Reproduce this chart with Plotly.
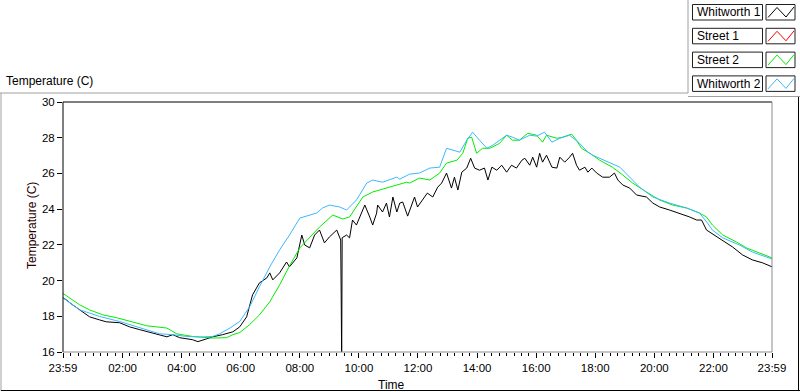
import plotly.graph_objects as go
from datetime import datetime, timedelta

# ---------------- data ----------------
w1_times = ["23:59","00:06","00:13","00:19","00:33","00:53","01:13","01:27","01:54","02:14","02:35","03:01",
            "03:30","03:42","03:56","04:22","04:33","04:51","05:03","05:23","05:44","05:58","06:12","06:24",
            "06:38","06:53","06:59","07:05","07:19","07:33","07:39","07:54","08:04","08:10","08:20","08:30",
            "08:40","08:50","09:00","09:15","09:23","09:24","09:25","09:26","09:35","09:41","09:47","09:55",
            "10:06","10:12","10:22","10:28","10:36","10:38","10:48","10:56","11:02","11:09","11:17","11:23",
            "11:29","11:37","11:39","11:53","11:59","12:09","12:19","12:30","12:40","12:48","12:58","13:08",
            "13:14","13:21","13:29","13:39","13:47","13:55","14:05","14:15","14:22","14:30","14:40","14:50",
            "15:00","15:10","15:20","15:31","15:37","15:47","15:53","16:01","16:07","16:13","16:21","16:32",
            "16:42","16:48","16:58","17:08","17:14","17:22","17:28","17:39","17:45","17:53","18:03","18:15",
            "18:29","18:39","18:46","18:56","19:10","19:24","19:44","19:57","20:11","20:31","20:51","21:12",
            "21:26","21:36","21:46","21:58","22:19","22:39","22:59","23:19","23:40","23:59"]
whitworth1 = [19.03,18.92,18.75,18.64,18.36,17.97,17.80,17.69,17.64,17.41,17.25,17.08,
              16.85,16.97,16.80,16.69,16.58,16.74,16.85,16.97,17.13,17.41,17.97,19.20,
              19.87,20.15,20.43,20.04,20.43,21.04,20.77,21.27,22.55,21.99,21.83,22.55,
              22.83,22.11,22.44,22.83,22.27,19.20,15.50,22.40,22.55,22.39,23.39,23.11,
              23.78,24.23,23.56,23.11,23.78,24.23,23.84,24.34,23.56,24.68,23.84,24.34,
              24.40,23.67,23.61,24.68,24.12,24.51,24.90,24.68,25.23,25.46,26.02,25.18,
              25.79,25.07,26.07,26.30,26.85,26.30,26.18,26.30,25.63,26.35,26.18,26.46,
              26.07,26.46,26.30,26.74,26.85,26.46,26.91,26.35,27.13,26.63,27.02,26.35,
              26.30,26.91,26.63,26.91,27.13,26.46,26.18,26.35,26.07,26.30,26.02,25.79,
              25.79,26.02,25.63,25.35,25.18,24.79,24.68,24.34,24.12,23.95,23.78,23.56,
              23.39,23.39,22.83,22.61,22.27,21.88,21.44,21.16,20.99,20.77]

street1_times = []
street1 = []

s2_times = ["23:59","00:13","00:33","00:53","01:20","01:48","02:14","02:49","03:30","03:50","04:22","05:03",
            "05:31","05:44","05:58","06:18","06:38","06:59","07:19","07:39","08:00","08:20","08:40","09:07",
            "09:27","09:41","10:08","10:28","10:56","11:17","11:37","11:43","12:03","12:24","12:44","12:58",
            "13:19","13:31","13:41","13:49","13:59","14:11","14:26","14:46","15:00","15:12","15:26","15:43",
            "16:01","16:13","16:21","16:42","16:54","17:12","17:22","17:32","17:49","18:09","18:35","18:56",
            "19:16","19:44","20:11","20:37","21:06","21:32","21:46","21:58","22:19","22:47","23:07","23:33","23:59"]
street2 = [19.28,19.03,18.64,18.36,18.08,17.92,17.71,17.47,17.34,17.02,16.87,16.78,
           16.80,16.97,17.09,17.53,18.08,18.81,19.76,20.82,21.83,22.44,23.00,23.67,
           23.45,23.56,24.68,24.96,25.18,25.35,25.51,25.46,25.74,25.63,26.02,26.58,
           26.74,27.13,27.97,28.03,27.13,27.41,27.41,27.69,28.14,27.86,27.86,28.25,
           28.14,27.75,28.14,27.97,28.03,28.20,27.86,27.41,27.13,26.74,26.35,25.91,
           25.46,24.96,24.51,24.23,24.06,23.78,23.56,23.11,22.55,22.16,21.83,21.55,21.27]

w2_times = ["23:59","00:13","00:33","00:53","01:13","01:54","02:35","03:15","03:42","04:10","04:37","05:03",
            "05:17","05:38","05:58","06:18","06:38","06:59","07:19","07:39","08:00","08:20","08:34","08:46",
            "09:00","09:21","09:35","09:55","10:16","10:28","10:48","11:17","11:23","11:43","12:03","12:24",
            "12:44","12:58","13:10","13:25","13:39","13:51","14:05","14:20","14:32","14:46","15:00","15:12",
            "15:26","15:47","16:01","16:17","16:32","16:48","17:08","17:28","17:45","17:55","18:29","18:50",
            "19:10","19:30","19:57","20:31","21:06","21:32","21:48","21:58","22:19","22:53","23:19","23:59"]
whitworth2 = [19.03,18.74,18.36,18.18,17.99,17.71,17.34,17.02,16.97,16.87,16.84,16.87,
              17.02,17.34,17.71,18.53,19.65,20.77,21.72,22.55,23.50,23.67,23.78,24.06,
              24.23,24.12,23.95,24.51,25.46,25.63,25.51,25.79,25.68,25.96,26.02,26.30,
              26.35,27.41,27.30,27.19,27.86,28.31,27.86,27.41,27.58,27.86,28.14,28.03,
              27.86,28.14,28.09,28.31,27.75,27.97,28.14,27.69,27.19,27.02,26.63,26.35,
              25.79,25.23,24.68,24.34,24.06,23.78,23.22,22.83,22.39,21.99,21.60,21.21]

series_names = ["Whitworth 1", "Street 1", "Street 2", "Whitworth 2"]
tick_labels = ["23:59","02:00","04:00","06:00","08:00","10:00","12:00","14:00","16:00","18:00","20:00","22:00","23:59"]
y_ticks = [16, 18, 20, 22, 24, 26, 28, 30]

# ---------------- helpers ----------------
BASE = datetime(2024, 1, 1)

def to_dt(times):
    out, day, prev = [], 0, None
    for t in times:
        h, m = map(int, t.split(":"))
        v = h * 60 + m
        if prev is not None and v < prev:
            day += 1
        prev = v
        out.append(BASE + timedelta(days=day, hours=h, minutes=m))
    return out

tick_vals = to_dt(tick_labels)

colors = ["#000000", "#ff0000", "#00ee00", "#3cb8ff"]
data = [(w1_times, whitworth1), (street1_times, street1), (s2_times, street2), (w2_times, whitworth2)]

fig = go.Figure()
for (tt, vals), name, col in zip(data, series_names, colors):
    fig.add_trace(go.Scatter(x=to_dt(tt), y=vals, mode="lines", name=name,
                             line=dict(color=col, width=1), showlegend=False, hoverinfo="skip"))

W, H = 800, 392
L, R, T, B = 63, 28, 102, 40
PW, PH = W - L - R, H - T - B

def px(x):
    return (x - L) / PW

def py(y):
    return (H - B - y) / PH

FONT = "Liberation Sans, Arial, sans-serif"
shapes = []
def line(x0, y0, x1, y1, color, width=1):
    shapes.append(dict(type="line", xref="paper", yref="paper", x0=px(x0), y0=py(y0), x1=px(x1), y1=py(y1),
                       line=dict(color=color, width=width), layer="above"))

# plot frame
line(63, 102, 772, 102, "#000000")
line(63, 102, 63, 352, "#000000")
line(63, 352, 772, 352, "#8c8c8c")
line(772, 102, 772, 352, "#8c8c8c")
# outer panel
line(0, 93, 688, 93, "#a0a0a0")
line(1, 93, 1, 391, "#a0a0a0")
line(1, 390.5, 800, 390.5, "#000000")
line(798.5, 96, 798.5, 391, "#000000")
# legend panel edges
line(688, 0, 688, 93, "#a0a0a0")
line(688, 96.5, 800, 96.5, "#a0a0a0")

annotations = []
row_pitch = 23.8
for i, (name, col) in enumerate(zip(series_names, colors)):
    y0 = 4.5 + i * row_pitch
    y1 = y0 + 15.5
    shapes.append(dict(type="rect", xref="paper", yref="paper", x0=px(692.5), x1=px(762.5), y0=py(y1), y1=py(y0),
                       line=dict(color="#202020", width=1), fillcolor="white", layer="above"))
    shapes.append(dict(type="rect", xref="paper", yref="paper", x0=px(766), x1=px(795), y0=py(y1), y1=py(y0),
                       line=dict(color="#202020", width=1), fillcolor="white", layer="above"))
    zz = [(768, y0 + 13), (777, y0 + 3), (786, y0 + 12.5), (794, y0 + 2.5)]
    path = "M " + " L ".join(f"{px(a)},{py(b)}" for a, b in zz)
    shapes.append(dict(type="path", xref="paper", yref="paper", path=path,
                       line=dict(color=col, width=1), layer="above"))
    annotations.append(dict(text=name, xref="paper", yref="paper", x=px(695), y=py((y0 + y1) / 2),
                            xanchor="left", yanchor="middle", showarrow=False,
                            font=dict(family=FONT, size=12, color="black")))

annotations.append(dict(text="Temperature (C)", xref="paper", yref="paper", x=px(4), y=py(81),
                        xanchor="left", yanchor="middle", showarrow=False,
                        font=dict(family=FONT, size=12, color="black")))
annotations.append(dict(text="Temperature (C)", xref="paper", yref="paper", x=px(32), y=py(226),
                        xanchor="center", yanchor="middle", showarrow=False, textangle=-90,
                        font=dict(family=FONT, size=12, color="#2a0000")))
annotations.append(dict(text="Time", xref="paper", yref="paper", x=px(391), y=py(385),
                        xanchor="center", yanchor="middle", showarrow=False,
                        font=dict(family=FONT, size=12, color="black")))

fig.update_layout(
    width=W, height=H, margin=dict(l=L, r=R, t=T, b=B),
    paper_bgcolor="white", plot_bgcolor="white",
    shapes=shapes, annotations=annotations, showlegend=False,
    font=dict(family=FONT, size=12, color="black"),
    xaxis=dict(type="date", range=[tick_vals[0], tick_vals[-1]], tickmode="array",
               tickvals=tick_vals, ticktext=tick_labels, ticks="outside", ticklen=5, tickwidth=1,
               tickcolor="black", showgrid=False, zeroline=False, showline=False,
               tickfont=dict(family=FONT, size=11.5, color="black"),
               minor=dict(tickmode="linear", tick0="2024-01-02 00:00", dtick=15 * 60 * 1000,
                          ticks="outside", ticklen=3, tickcolor="black", showgrid=False)),
    yaxis=dict(range=[16, 30], tickmode="array", tickvals=y_ticks, ticks="outside", ticklen=5,
               tickwidth=1, tickcolor="black", showgrid=False, zeroline=False, showline=False,
               tickfont=dict(family=FONT, size=11.5, color="black")),
)

fig.write_html("out.html", config={"displayModeBar": False, "staticPlot": True},
               post_script="document.body.style.margin='0px';document.body.style.overflow='hidden';")
